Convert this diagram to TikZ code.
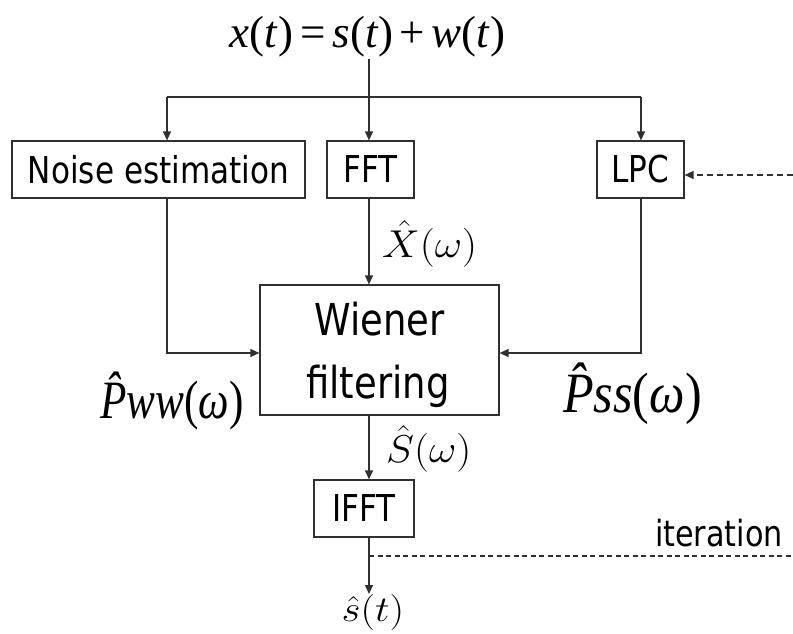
\documentclass[tikz,border=0pt]{standalone}
\usepackage[no-math]{fontspec}
\setmainfont{Liberation Serif}
\newfontfamily\tah[FakeStretch=0.84]{DejaVu Sans}
\usetikzlibrary{arrows.meta,calc}
\definecolor{ln}{HTML}{303030}
\newcommand{\bigmath}[3]{{\fontsize{24.88}{30}\selectfont\scalebox{#1}[#2]{$#3$}}}
\tikzset{
  box/.style={draw=ln, line width=1.2pt, inner sep=0pt, font=\tah\fontsize{37}{40}\selectfont},
  arr/.style={draw=ln, line width=1.2pt, -{Triangle[length=9pt,width=8pt]}},
  plain/.style={draw=ln, line width=1.2pt},
  dasharr/.style={draw=ln, line width=1.2pt, dash pattern=on 6pt off 4pt, -{Triangle[length=9pt,width=8pt]}},
  dashln/.style={draw=ln, line width=1.2pt, dash pattern=on 5pt off 3.5pt},
  lab/.style={inner sep=0pt}
}
\begin{document}
\begin{tikzpicture}[x=1pt,y=-1pt]
\useasboundingbox (0,0) rectangle (793,634);
% title
\node[lab, anchor=base] (title) at (367.5,48) {\fontsize{45}{50}\selectfont\textit{x}(\textit{t})\hspace{7pt}=\hspace{7pt}\textit{s}(\textit{t})\hspace{6pt}+\hspace{7pt}\textit{w}(\textit{t})};
% boxes
\node[box, minimum width=293pt, minimum height=57pt] (noise) at (158.5,169.5) {Noise estimation};
\node[box, minimum width=87pt, minimum height=57pt] (fft) at (370.5,169.5) {FFT};
\node[box, minimum width=87pt, minimum height=57pt] (lpc) at (640.5,169.5) {LPC};
\node[box, minimum width=239pt, minimum height=130pt] (wf) at (379.5,350) {};
\node[lab, anchor=base, font=\tah\fontsize{44}{48}\selectfont] (wf1) at (379.5,335) {Wiener};
\node[lab, anchor=base, font=\tah\fontsize{44}{48}\selectfont] (wf2) at (378,398) {filtering};
\node[box, minimum width=100pt, minimum height=57pt] (ifft) at (364,508.5) {IFFT};
% labels
\node[lab, anchor=base west] (xw) at (382,257) {\bigmath{1.7}{1.56}{\hat{X}(\omega)}};
\node[lab, anchor=base west] (sw) at (386,462) {\bigmath{1.7}{1.56}{\hat{S}(\omega)}};
\node[lab, anchor=base west] (pww) at (100,418) {\fontsize{54}{60}\selectfont\scalebox{0.8}[1]{\textit{\^{P}ww}(\textit{ω})}};
\node[lab, anchor=base west] (pss) at (563,412) {\fontsize{57}{62}\selectfont\scalebox{0.88}[1]{\textit{\^{P}ss}(\textit{ω})}};
\node[lab, anchor=base east, font=\tah\fontsize{36}{40}\selectfont] (iter) at (783,546) {iteration};
\node[lab, anchor=north] (out) at (373,594) {\bigmath{1.65}{1.45}{\hat{s}(t)}};
% coordinates
\coordinate (split) at (369,97);
\coordinate (jl) at (167,97);
\coordinate (jr) at (641,97);
\coordinate (yin) at (0,353);
\coordinate (fb) at (369,556);
\coordinate (fbe) at (793,556);
\coordinate (lpcin) at (793,175);
% connectors
\draw[plain] (split |- title.south) ++(0,1) -- (split);
\draw[plain] (jl) -- (jr);
\draw[arr] (jl) -- (jl |- noise.north);
\draw[arr] (split) -- (split |- fft.north);
\draw[arr] (jr) -- (jr |- lpc.north);
\draw[arr] (split |- fft.south) -- (split |- wf.north);
\draw[arr] (jl |- noise.south) |- (wf.west |- yin);
\draw[arr] (jr |- lpc.south) |- (wf.east |- yin);
\draw[arr] (split |- wf.south) -- (split |- ifft.north);
\draw[arr] (split |- ifft.south) -- (split |- out.north);
\draw[dashln] (fb) -- (fbe);
\draw[dasharr] (lpcin) -- (lpc.east |- lpcin);
\end{tikzpicture}
\end{document}
